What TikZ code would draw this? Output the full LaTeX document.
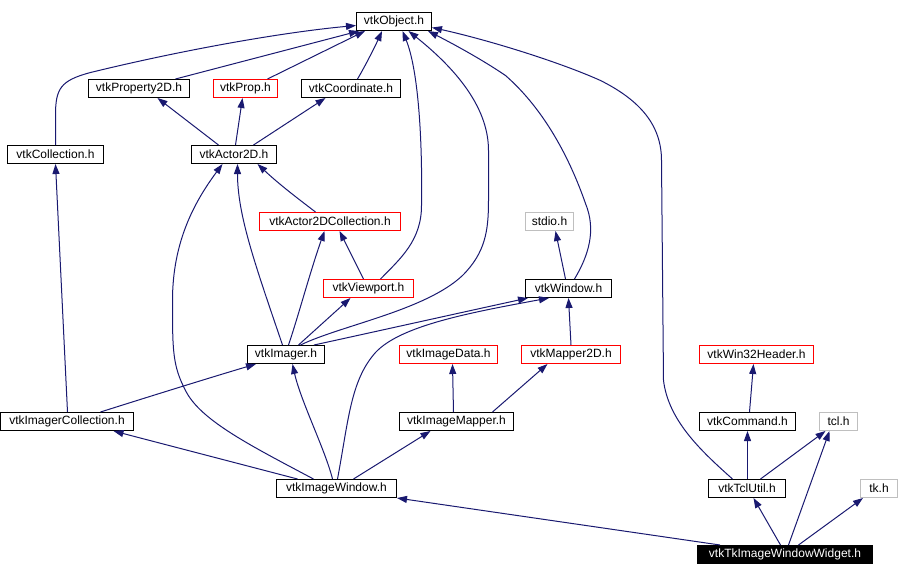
\documentclass[tikz,border=0pt]{standalone}
\usepackage{fontspec}
\setmainfont{Liberation Sans}
\usetikzlibrary{arrows.meta}
\definecolor{edgec}{HTML}{191970}
\definecolor{grayc}{HTML}{BFBFBF}
\definecolor{redc}{HTML}{FF0000}
\tikzset{
  hbox/.style={draw=black, line width=1pt, rectangle, minimum height=18pt, inner sep=0pt, font=\fontsize{12}{14}\selectfont, fill=white},
  redbox/.style={hbox, draw=redc},
  graybox/.style={hbox, draw=grayc},
  blackbox/.style={hbox, fill=black, text=white},
  dep/.style={draw=edgec, line width=1pt, -{Triangle[length=10pt,width=7pt]}},
}
\begin{document}
\begin{tikzpicture}[x=1pt,y=-1pt]
\useasboundingbox (0,0) rectangle (900,576);
\begin{scope}[shift={(0.5,0.5)}]
% nodes
\node[hbox, minimum width=75pt] (obj) at (393.5,21) {vtkObject.h};
\node[hbox, minimum width=101pt] (prop2d) at (138.5,88) {vtkProperty2D.h};
\node[redbox, minimum width=64pt] (prop) at (245,88) {vtkProp.h};
\node[hbox, minimum width=99pt] (coord) at (350.5,88) {vtkCoordinate.h};
\node[hbox, minimum width=96pt] (coll) at (55,154) {vtkCollection.h};
\node[hbox, minimum width=85pt] (actor) at (233.5,154) {vtkActor2D.h};
\node[redbox, minimum width=141pt] (a2dcoll) at (329.5,221) {vtkActor2DCollection.h};
\node[graybox, minimum width=48pt] (stdio) at (549,221) {stdio.h};
\node[redbox, minimum width=90pt] (viewport) at (368,288) {vtkViewport.h};
\node[hbox, minimum width=86pt] (window) at (568,288) {vtkWindow.h};
\node[hbox, minimum width=77pt] (imager) at (285.5,354) {vtkImager.h};
\node[redbox, minimum width=98pt] (imgdata) at (448,354) {vtkImageData.h};
\node[redbox, minimum width=99pt] (mapper2d) at (570.5,354) {vtkMapper2D.h};
\node[redbox, minimum width=114pt] (win32) at (756,354) {vtkWin32Header.h};
\node[hbox, minimum width=133pt] (imgcoll) at (66.5,421) {vtkImagerCollection.h};
\node[hbox, minimum width=114pt] (imgmapper) at (456,421) {vtkImageMapper.h};
\node[hbox, minimum width=96pt] (command) at (747,421) {vtkCommand.h};
\node[graybox, minimum width=38pt] (tcl) at (838,421) {tcl.h};
\node[hbox, minimum width=120pt] (imgwin) at (336,488) {vtkImageWindow.h};
\node[hbox, minimum width=77pt] (tclutil) at (746.5,488) {vtkTclUtil.h};
\node[graybox, minimum width=37pt] (tk) at (878.5,488) {tk.h};
\node[blackbox, minimum width=175pt] (widget) at (784.5,554) {vtkTkImageWindowWidget.h};
% edges
\draw[dep] (coll.north) -- (55,115) .. controls (55,88) and (60,80) .. (90,72) .. controls (180,50) and (280,32) .. ([yshift=-4pt]obj.west);
\draw[dep] ([xshift=36.5pt]prop2d.north) -- ([xshift=3pt]obj.south west);
\draw[dep] ([xshift=22pt]prop.north) -- ([xshift=9pt]obj.south west);
\draw[dep] ([xshift=6.5pt]coord.north) .. controls (365,65) and (375,45) .. ([xshift=26pt]obj.south west);
\draw[dep] ([xshift=-15.5pt]actor.north) -- ([xshift=18.5pt]prop2d.south);
\draw[dep] ([xshift=1.5pt]actor.north) -- ([xshift=-3pt]prop.south);
\draw[dep] ([xshift=19.5pt]actor.north) -- ([xshift=-25.5pt]coord.south);
\draw[dep] ([xshift=-14.5pt]a2dcoll.north) .. controls (300,200) and (280,185) .. ([xshift=23.5pt]actor.south);
\draw[dep] ([xshift=12pt]viewport.north) .. controls (400,258) and (421,240) .. (421,205) .. controls (422,140) and (418,70) .. ([xshift=8.5pt]obj.south);
\draw[dep] ([xshift=-5pt]viewport.north) -- ([xshift=9.5pt]a2dcoll.south);
\draw[dep] ([xshift=-3.5pt]imager.north) .. controls (255,265) and (237,215) .. ([xshift=3.5pt]actor.south);
\draw[dep] ([xshift=2.5pt]imager.north) .. controls (298,315) and (310,270) .. ([xshift=-5.5pt]a2dcoll.south);
\draw[dep] ([xshift=12.5pt]imager.north) -- ([xshift=-18pt]viewport.south);
\draw[dep] ([xshift=14.5pt]imager.north) .. controls (340,325) and (425,310) .. (462,275) .. controls (485,252) and (488,230) .. (488,200) -- (488,150) .. controls (488,110) and (460,72) .. ([xshift=14.5pt]obj.south);
\draw[dep] ([xshift=-11pt]imager.north east) .. controls (380,330) and (470,310) .. ([xshift=3pt]window.south west);
\draw[dep] ([xshift=1pt]imgwin.north) .. controls (348,420) and (350,380) .. (375,352) .. controls (400,325) and (470,312) .. ([xshift=24pt]window.south west);
\draw[dep] ([xshift=33.5pt]imgcoll.north) .. controls (130,402) and (200,380) .. ([xshift=-30pt]imager.south);
\draw[dep] ([xshift=0.5pt]imgcoll.north) -- (coll.south);
\draw[dep] ([xshift=-39pt]imgwin.north) -- ([xshift=46.5pt]imgcoll.south);
\draw[dep] ([xshift=-23pt]imgwin.north) .. controls (250,445) and (200,420) .. (185,390) .. controls (172,365) and (172,350) .. (172,300) .. controls (172,240) and (195,200) .. ([xshift=-11.5pt]actor.south);
\draw[dep] ([xshift=-4pt]imgwin.north) .. controls (325,450) and (300,400) .. ([xshift=6.5pt]imager.south);
\draw[dep] ([xshift=17pt]imgwin.north) -- ([xshift=-26pt]imgmapper.south);
\draw[dep] ([xshift=-3pt]imgmapper.north) -- ([xshift=4pt]imgdata.south);
\draw[dep] ([xshift=36pt]imgmapper.north) -- ([xshift=-23.5pt]mapper2d.south);
\draw[dep] (mapper2d.north) -- (window.south);
\draw[dep] ([xshift=-3pt]window.north) -- ([xshift=6pt]stdio.south);
\draw[dep] ([xshift=6pt]window.north) .. controls (588,255) and (596,230) .. (585,203) .. controls (570,160) and (545,110) .. (505,75) .. controls (480,58) and (450,42) .. ([xshift=-4pt]obj.south east);
\draw[dep] ([xshift=-14.5pt]tclutil.north) .. controls (700,450) and (668,420) .. (663,380) -- (661,160) .. controls (661,125) and (640,100) .. (600,80) .. controls (560,62) and (490,40) .. ([yshift=-6pt]obj.east);
\draw[dep] ([xshift=2pt]command.north) -- ([xshift=-3pt]win32.south);
\draw[dep] ([xshift=0.5pt]tclutil.north) -- (command.south);
\draw[dep] ([xshift=13.5pt]tclutil.north) -- ([xshift=-13pt]tcl.south);
\draw[dep] ([xshift=-4.5pt]widget.north) -- ([xshift=6.5pt]tclutil.south);
\draw[dep] ([xshift=3.5pt]widget.north) -- ([xshift=-9pt]tcl.south);
\draw[dep] ([xshift=13.5pt]widget.north) -- ([xshift=3pt]tk.south west);
\draw[dep] ([xshift=23pt]widget.north west) -- (imgwin.south east);
\end{scope}
\end{tikzpicture}
\end{document}
